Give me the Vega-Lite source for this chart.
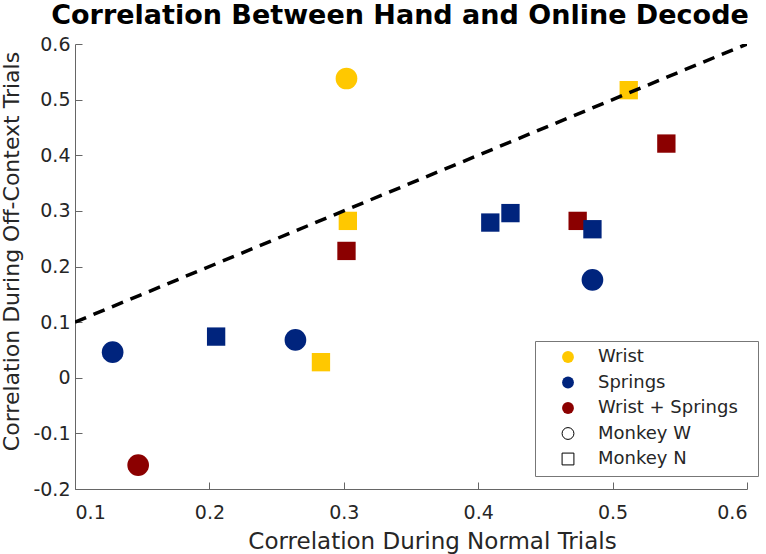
{
  "$schema": "https://vega.github.io/schema/vega-lite/v6.json",
  "width": 672,
  "height": 445,
  "autosize": {"type": "none"},
  "padding": {"left": 75, "top": 44, "right": 19, "bottom": 65},
  "background": "white",
  "title": {
    "text": "Correlation Between Hand and Online Decode",
    "font": "DejaVu Sans",
    "fontSize": 27,
    "fontWeight": "bold",
    "color": "#000000",
    "anchor": "middle",
    "dx": -11,
    "offset": 5
  },
  "config": {
    "view": {"stroke": null},
    "font": "DejaVu Sans",
    "axis": {
      "grid": false,
      "domainColor": "#666666",
      "tickColor": "#666666",
      "tickSize": -7,
      "labelColor": "#262626",
      "titleColor": "#262626",
      "labelFont": "DejaVu Sans",
      "titleFont": "DejaVu Sans",
      "labelFontSize": 19,
      "titleFontSize": 23,
      "titleFontWeight": "normal"
    },
    "legend": {
      "labelFont": "DejaVu Sans",
      "labelColor": "#262626",
      "labelFontSize": 18,
      "labelLimit": 300,
      "symbolSize": 140,
      "symbolOffset": 17,
      "labelOffset": 21,
      "padding": 7,
      "rowPadding": 7.5
    }
  },
  "datasets": {
    "pts": [
      {"condition": "Wrist", "monkey": "Monkey W", "x": 0.302, "y": 0.538},
      {"condition": "Wrist", "monkey": "Monkey N", "x": 0.303, "y": 0.282},
      {"condition": "Wrist", "monkey": "Monkey N", "x": 0.283, "y": 0.028},
      {"condition": "Wrist", "monkey": "Monkey N", "x": 0.512, "y": 0.517},
      {"condition": "Springs", "monkey": "Monkey W", "x": 0.128, "y": 0.046},
      {"condition": "Springs", "monkey": "Monkey W", "x": 0.264, "y": 0.068},
      {"condition": "Springs", "monkey": "Monkey W", "x": 0.485, "y": 0.176},
      {"condition": "Springs", "monkey": "Monkey N", "x": 0.205, "y": 0.074},
      {"condition": "Springs", "monkey": "Monkey N", "x": 0.409, "y": 0.279},
      {"condition": "Springs", "monkey": "Monkey N", "x": 0.424, "y": 0.296},
      {"condition": "Wrist + Springs", "monkey": "Monkey W", "x": 0.147, "y": -0.157},
      {"condition": "Wrist + Springs", "monkey": "Monkey N", "x": 0.302, "y": 0.228},
      {"condition": "Wrist + Springs", "monkey": "Monkey N", "x": 0.474, "y": 0.282},
      {"condition": "Wrist + Springs", "monkey": "Monkey N", "x": 0.540, "y": 0.421},
      {"condition": "Springs", "monkey": "Monkey N", "x": 0.485, "y": 0.267}
    ],
    "diag": [
      {"x": 0.1, "y": 0.1},
      {"x": 0.6, "y": 0.6}
    ],
    "legendEntries": [
      {"entry": "Wrist", "group": "condition"},
      {"entry": "Springs", "group": "condition"},
      {"entry": "Wrist + Springs", "group": "condition"},
      {"entry": "Monkey W", "group": "monkey"},
      {"entry": "Monkey N", "group": "monkey"}
    ]
  },
  "resolve": {"scale": {"color": "independent", "shape": "independent", "size": "independent"}},
  "layer": [
    {
      "data": {"name": "legendEntries"},
      "mark": {"type": "point", "filled": true, "opacity": 0},
      "encoding": {
        "color": {
          "field": "entry", "type": "nominal",
          "scale": {
            "domain": ["Wrist", "Springs", "Wrist + Springs", "Monkey W", "Monkey N"],
            "range": ["#FFFFFF", "#FFFFFF", "#FFFFFF", "#FFFFFF", "#FFFFFF"]
          },
          "legend": {
            "title": null,
            "orient": "none",
            "legendX": 460,
            "legendY": 297,
            "strokeColor": "#777777",
            "fillColor": "white",
            "symbolOpacity": 0,
            "symbolSize": 361,
            "labelExpr": "''",
            "labelFontSize": 19,
            "labelOffset": 171,
            "rowPadding": 4
          }
        }
      }
    },
    {
      "data": {"name": "pts"},
      "mark": {"type": "point", "filled": true, "opacity": 1},
      "encoding": {
        "x": {
          "field": "x", "type": "quantitative",
          "scale": {"domain": [0.1, 0.6], "nice": false, "zero": false},
          "axis": {
            "title": "Correlation During Normal Trials",
            "values": [0.1, 0.2, 0.3, 0.4, 0.5, 0.6],
            "labelExpr": "toString(round(datum.value*10)/10)",
            "labelPadding": 21,
            "titleX": 357,
            "titleY": 59,
            "titleBaseline": "alphabetic"
          }
        },
        "y": {
          "field": "y", "type": "quantitative",
          "scale": {"domain": [-0.2, 0.6], "nice": false, "zero": false},
          "axis": {
            "title": "Correlation During Off-Context Trials",
            "titleFontSize": 22,
            "values": [-0.2, -0.1, 0, 0.1, 0.2, 0.3, 0.4, 0.5, 0.6],
            "labelExpr": "toString(round(datum.value*10)/10)",
            "labelPadding": 12,
            "titleX": -57,
            "titleY": 207,
            "titleBaseline": "alphabetic"
          }
        },
        "color": {
          "field": "condition", "type": "nominal",
          "scale": {
            "domain": ["Wrist", "Springs", "Wrist + Springs"],
            "range": ["#FFC800", "#00247D", "#8B0000"]
          },
          "legend": null
        },
        "shape": {
          "field": "monkey", "type": "nominal",
          "scale": {"domain": ["Monkey W", "Monkey N"], "range": ["circle", "square"]},
          "legend": null
        },
        "size": {
          "field": "monkey", "type": "nominal",
          "scale": {"domain": ["Monkey W", "Monkey N"], "range": [470, 336]},
          "legend": null
        }
      }
    },
    {
      "data": {"name": "diag"},
      "mark": {"type": "line", "color": "#000000", "strokeWidth": 3.5, "strokeDash": [12, 8], "clip": true},
      "encoding": {
        "x": {"field": "x", "type": "quantitative"},
        "y": {"field": "y", "type": "quantitative"}
      }
    },
    {
      "data": {"name": "legendEntries"},
      "transform": [{"filter": "datum.group === 'condition'"}],
      "mark": {"type": "point", "filled": true, "opacity": 0},
      "encoding": {
        "color": {
          "field": "entry", "type": "nominal",
          "scale": {
            "domain": ["Wrist", "Springs", "Wrist + Springs"],
            "range": ["#FFC800", "#00247D", "#8B0000"]
          },
          "legend": {
            "title": null,
            "orient": "none",
            "legendX": 460,
            "legendY": 297,
            "symbolOpacity": 1,
            "symbolType": "circle"
          }
        }
      }
    },
    {
      "data": {"name": "legendEntries"},
      "transform": [{"filter": "datum.group === 'monkey'"}],
      "mark": {"type": "point", "filled": false, "color": "#000000", "opacity": 0, "strokeWidth": 1},
      "encoding": {
        "shape": {
          "field": "entry", "type": "nominal",
          "scale": {"domain": ["Monkey W", "Monkey N"], "range": ["circle", "square"]},
          "legend": {
            "title": null,
            "orient": "none",
            "legendX": 460,
            "legendY": 373.5,
            "symbolOpacity": 1,
            "symbolStrokeColor": "#000000",
            "symbolStrokeWidth": 1,
            "symbolFillColor": "transparent"
          }
        }
      }
    }
  ]
}
